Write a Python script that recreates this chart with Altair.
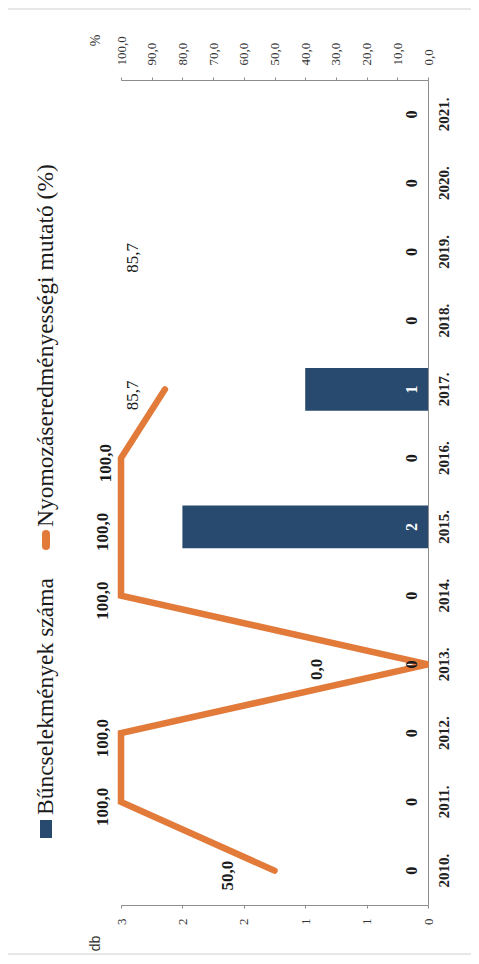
import altair as alt
import pandas as pd

# ---------------- data ----------------
years = ["2010", "2011", "2012", "2013", "2014", "2015",
         "2016", "2017", "2018", "2019", "2020", "2021"]
crime_counts = [0, 0, 0, 0, 0, 2, 0, 1, 0, 0, 0, 0]

rate_years = ["2010", "2011", "2012", "2013", "2014", "2015", "2016", "2017"]
rate_values = [50.0, 100.0, 100.0, 0.0, 100.0, 100.0, 100.0, 85.7]

# value labels of the line (as printed) and where they sit on the % scale
rate_label_years = ["2010", "2011", "2012", "2013", "2014", "2015", "2016", "2017", "2019"]
rate_label_texts = ["50,0", "100,0", "100,0", "0,0", "100,0", "100,0", "100,0", "85,7", "85,7"]
rate_label_at = [65, 106, 106, 36, 106, 106, 105, 96, 96]
rate_label_bold = [True, True, True, True, True, True, True, False, False]

legend_labels = ["Bűncselekmények száma", "Nyomozáseredményességi mutató (%)"]
count_ticks = [0, 0.5, 1, 1.5, 2, 2.5]
pct_ticks = [0, 10, 20, 30, 40, 50, 60, 70, 80, 90, 100]

BAR_COLOR = "#284a6e"
LINE_COLOR = "#e27a3a"
AXIS_GRAY = "#8c8c8c"
SERIF = "Liberation Serif"

counts_df = pd.DataFrame({"year": years, "count": crime_counts})
rate_df = pd.DataFrame({"year": rate_years, "rate": rate_values})
rate_lbl_df = pd.DataFrame({"year": rate_label_years, "txt": rate_label_texts,
                            "at": rate_label_at, "bold": rate_label_bold})
one = pd.DataFrame({"k": [0]})

# ---------------- shared encodings ----------------
year_axis = alt.Axis(orient="right", title=None, ticks=False, labelAngle=270,
                     labelAlign="center", labelBaseline="top", labelPadding=8,
                     labelExpr="datum.label + '.'", labelFont=SERIF, labelFontSize=15,
                     labelFontWeight="bold", labelColor="#222", domainColor=AXIS_GRAY)
y_enc = alt.Y("year:O", scale=alt.Scale(domain=years[::-1], paddingInner=0.375,
                                         paddingOuter=0.1875), axis=year_axis)

count_scale = alt.Scale(domain=[0, 2.5], reverse=True, nice=False, zero=True)
count_axis = alt.Axis(orient="bottom", values=count_ticks, labelExpr="round(datum.value)",
                      title="db", titleX=-26, titleY=38, titleAngle=270,
                      titleAlign="center", titleBaseline="middle",
                      titleFont="Liberation Sans", titleFontSize=14, titleFontWeight="normal",
                      titleColor="#333", labelAngle=270, labelAlign="right",
                      labelBaseline="middle", labelPadding=10, labelFlush=False,
                      labelOverlap=False, tickSize=3, grid=False,
                      domainColor=AXIS_GRAY, tickColor=AXIS_GRAY,
                      labelFont=SERIF, labelFontSize=13, labelColor="#333")

pct_scale = alt.Scale(domain=[0, 100], reverse=True, nice=False)
pct_axis = alt.Axis(orient="top", values=pct_ticks,
                    labelExpr="replace(format(datum.value, '.1f'), '.', ',')",
                    title="%", titleX=-26, titleY=-40, titleAngle=270,
                    titleAlign="center", titleBaseline="middle",
                    titleFont=SERIF, titleFontSize=14, titleFontWeight="normal",
                    titleColor="#333", labelAngle=270, labelAlign="left",
                    labelBaseline="middle", labelPadding=12, labelFlush=False,
                    labelOverlap=False, tickSize=3, grid=False,
                    domainColor=AXIS_GRAY, tickColor=AXIS_GRAY,
                    labelFont=SERIF, labelFontSize=13, labelColor="#333")

# ---------------- count (bars) ----------------
bars = alt.Chart(counts_df).mark_bar(color=BAR_COLOR).encode(
    x=alt.X("count:Q", scale=count_scale, axis=count_axis),
    y=y_enc,
)
count_text = alt.Chart(counts_df).transform_calculate(base="0").mark_text(
    angle=270, font=SERIF, fontSize=16, fontWeight="bold", baseline="middle",
    align="center", dy=-16
).encode(
    x=alt.X("base:Q", scale=count_scale, axis=None),
    y=y_enc,
    text=alt.Text("count:Q"),
    color=alt.condition(alt.datum.count > 0, alt.value("white"), alt.value("#1a1a1a")),
)

# ---------------- rate (line) ----------------
line = alt.Chart(rate_df).mark_line(color=LINE_COLOR, strokeWidth=6.5, strokeCap="round",
                                    strokeJoin="miter").encode(
    x=alt.X("rate:Q", scale=pct_scale, axis=pct_axis),
    y=y_enc,
    order=alt.Order("year:O"),
)
rate_text_bold = alt.Chart(rate_lbl_df).transform_filter("datum.bold").mark_text(
    angle=270, font=SERIF, fontSize=17, fontWeight="bold", baseline="middle",
    align="center", color="#1a1a1a", dx=-5
).encode(
    x=alt.X("at:Q", scale=pct_scale, axis=None),
    y=y_enc,
    text="txt:N",
)
rate_text_plain = alt.Chart(rate_lbl_df).transform_filter("!datum.bold").mark_text(
    angle=270, font=SERIF, fontSize=17, fontWeight="normal", baseline="middle",
    align="center", color="#1a1a1a", dx=-6
).encode(
    x=alt.X("at:Q", scale=pct_scale, axis=None),
    y=y_enc,
    text="txt:N",
)

# ---------------- hand-made rotated legend ----------------
leg_box = alt.Chart(one).mark_rect(color=BAR_COLOR).encode(
    x=alt.value(-81), x2=alt.value(-69), y=alt.value(740), y2=alt.value(758))
leg_text1 = alt.Chart(one).mark_text(angle=270, font=SERIF, fontSize=23.5, align="left",
                                     baseline="middle", color="#1a1a1a").encode(
    x=alt.value(-75), y=alt.value(735), text=alt.value(legend_labels[0]))
leg_line = alt.Chart(one).mark_rule(color=LINE_COLOR, strokeWidth=8, strokeCap="round").encode(
    x=alt.value(-75), y=alt.value(454), y2=alt.value(466))
leg_text2 = alt.Chart(one).mark_text(angle=270, font=SERIF, fontSize=23.5, align="left",
                                     baseline="middle", color="#1a1a1a").encode(
    x=alt.value(-75), y=alt.value(447), text=alt.value(legend_labels[1]))

frame = alt.Chart(one).mark_rect(fill="transparent", stroke="#cfcfcf", strokeWidth=1).encode(
    x=alt.value(-117), x2=alt.value(355), y=alt.value(-71), y2=alt.value(874))

chart = alt.layer(
    frame, bars, line, count_text, rate_text_bold, rate_text_plain,
    leg_box, leg_text1, leg_line, leg_text2
).resolve_scale(
    x="independent"
).properties(
    width=307, height=825,
    padding={"left": 113, "top": 72, "right": 43, "bottom": 50},
    autosize=alt.AutoSizeParams(type="none"),
    background="white",
).configure_view(stroke=None)

chart.save("out.html", embed_options={"renderer": "svg", "actions": False})
